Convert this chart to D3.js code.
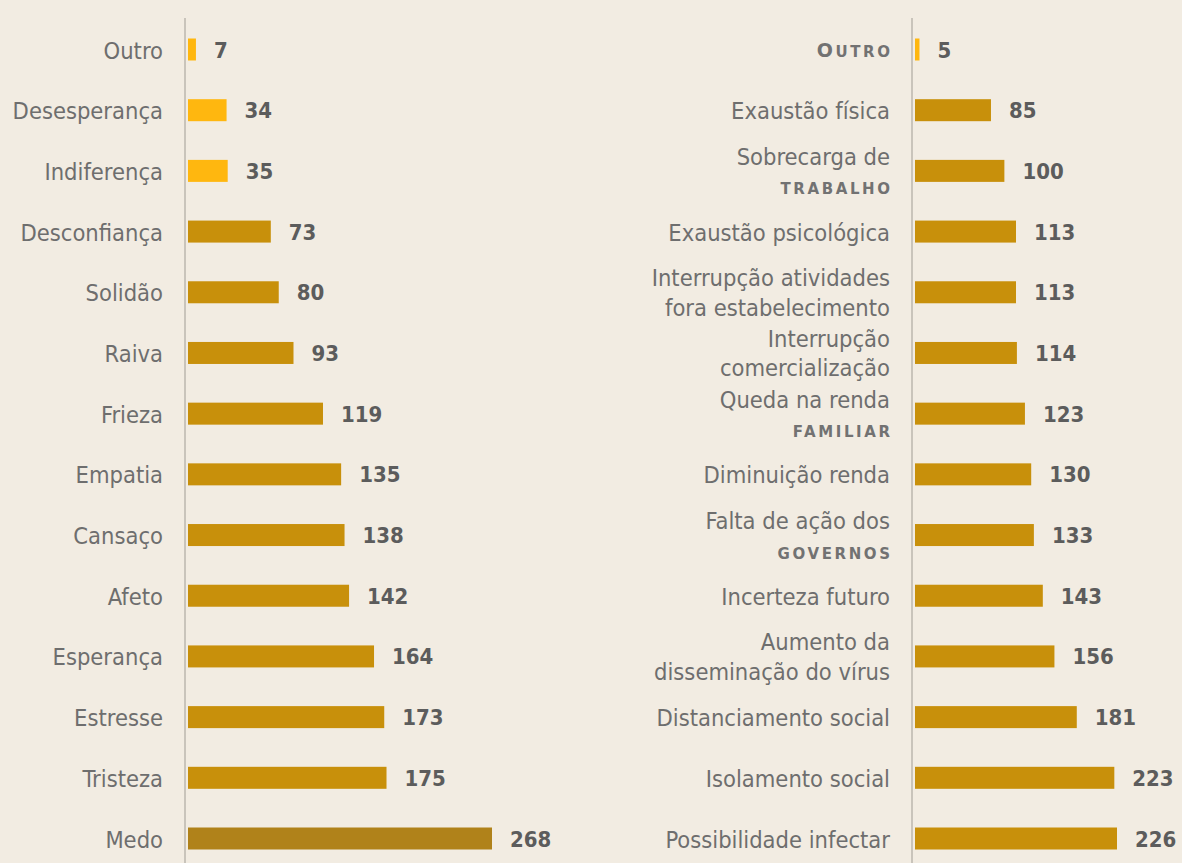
<!DOCTYPE html>
<html>
<head>
<meta charset="utf-8">
<script src="https://cdn.jsdelivr.net/npm/d3@7"></script>
<style>
  body { margin: 0; background: #f2ece2; }
  svg { display: block; }
  .lbl { font-family: "DejaVu Sans Condensed", "DejaVu Sans", sans-serif; font-stretch: condensed; font-size: 23.5px; fill: #6e6e6e; }
  .caps { font-family: "DejaVu Sans", sans-serif; font-weight: bold; font-size: 15px; letter-spacing: 2.6px; fill: #727272; }
  .val { font-family: "DejaVu Sans Condensed", "DejaVu Sans", sans-serif; font-stretch: condensed; font-weight: bold; font-size: 22px; fill: #5c5c5c; }
</style>
</head>
<body>
<script>
// left panel: feelings
var leftCats = ["Outro", "Desesperança", "Indiferença", "Desconfiança", "Solidão", "Raiva", "Frieza",
  "Empatia", "Cansaço", "Afeto", "Esperança", "Estresse", "Tristeza", "Medo"];
var leftVals = [7, 34, 35, 73, 80, 93, 119, 135, 138, 142, 164, 173, 175, 268];

// right panel: concerns (lines as printed)
var rightCats = [["Outro"], ["Exaustão física"], ["Sobrecarga de", "trabalho"], ["Exaustão psicológica"],
  ["Interrupção atividades", "fora estabelecimento"], ["Interrupção", "comercialização"],
  ["Queda na renda", "familiar"], ["Diminuição renda"], ["Falta de ação dos", "governos"],
  ["Incerteza futuro"], ["Aumento da", "disseminação do vírus"], ["Distanciamento social"],
  ["Isolamento social"], ["Possibilidade infectar"]];
var rightVals = [5, 85, 100, 113, 113, 114, 123, 130, 133, 143, 156, 181, 223, 226];
// lines printed in small capitals on the right
var capsLines = ["Outro", "trabalho", "familiar", "governos"];

var W = 1182, H = 863;
var svg = d3.select("body").append("svg").attr("width", W).attr("height", H);

var gold = "#c8900b", yellow = "#ffb70f", dark = "#b0821a";

function drawPanel(o) {
  var n = o.vals.length;
  var idx = d3.range(n);
  var y = d3.scalePoint().domain(idx).range([49.5, 838.5]);
  var x = d3.scaleLinear().domain([0, o.max]).range([0, o.width]);
  var g = svg.append("g");

  g.append("line")
    .attr("x1", o.axisX).attr("x2", o.axisX)
    .attr("y1", 18).attr("y2", H)
    .attr("stroke", "#c9c4bb").attr("stroke-width", 2);

  g.selectAll("rect").data(idx).enter().append("rect")
    .attr("x", o.barX)
    .attr("y", function(i){ return y(i) - 11; })
    .attr("width", function(i){ return x(o.vals[i]); })
    .attr("height", 22)
    .attr("fill", function(i){ return o.color(i); });

  g.selectAll("text.val").data(idx).enter().append("text")
    .attr("class", "val")
    .attr("x", function(i){ return o.barX + x(o.vals[i]) + 18; })
    .attr("y", function(i){ return y(i) + 8; })
    .text(function(i){ return o.vals[i]; });

  idx.forEach(function(i) {
    var lines = o.lines(i);
    var base = lines.length == 1 ? [9] : [-6, 23.5];
    lines.forEach(function(t, k) {
      var caps = o.caps && capsLines.indexOf(t) >= 0;
      var txt = g.append("text")
        .attr("class", caps ? "caps" : "lbl")
        .attr("text-anchor", "end")
        .attr("x", o.labelX + (caps ? 2.6 : 0))
        .attr("y", y(i) + base[k] + (caps && lines.length == 1 ? -2 : 0));
      if (caps && lines.length == 1) {
        // first letter as a full capital
        txt.append("tspan").style("font-size", "19px").text(t[0].toUpperCase());
        txt.append("tspan").text(t.slice(1).toUpperCase());
      } else {
        txt.text(caps ? t.toUpperCase() : t);
      }
    });
  });
}

drawPanel({
  vals: leftVals, max: 268, width: 304, axisX: 185, barX: 188, labelX: 163, caps: false,
  lines: function(i){ return [leftCats[i]]; },
  color: function(i){ return leftVals[i] < 40 ? yellow : (leftVals[i] == d3.max(leftVals) ? dark : gold); }
});

drawPanel({
  vals: rightVals, max: 226, width: 202, axisX: 912, barX: 915, labelX: 890, caps: true,
  lines: function(i){ return rightCats[i]; },
  color: function(i){ return rightVals[i] < 40 ? yellow : gold; }
});
</script>
</body>
</html>
